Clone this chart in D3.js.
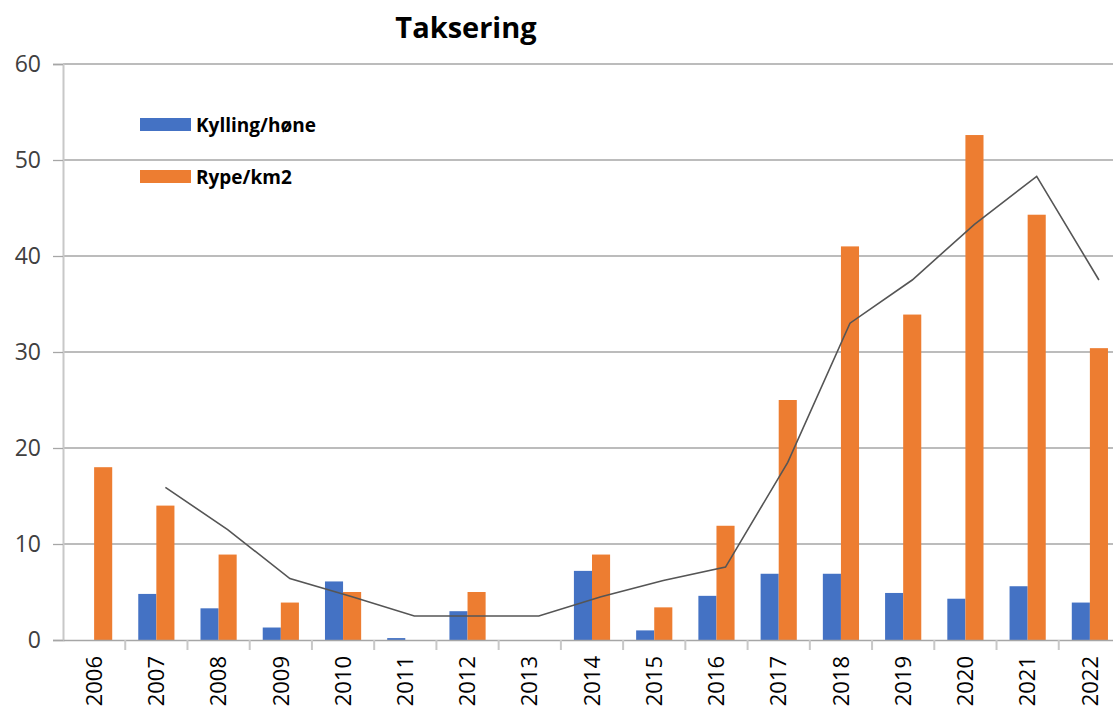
<!DOCTYPE html>
<html>
<head>
<meta charset="utf-8">
<script src="https://cdn.jsdelivr.net/npm/d3@7"></script>
<style>
  body { margin: 0; background: #fff; }
  svg { display: block; }
</style>
</head>
<body>
<div id="chart"></div>
<script>
const width = 1113;
const height = 711;

// data
const years = ["2006", "2007", "2008", "2009", "2010", "2011", "2012", "2013", "2014",
  "2015", "2016", "2017", "2018", "2019", "2020", "2021", "2022"];
const kylling = [0, 4.8, 3.3, 1.3, 6.1, 0.2, 3.0, 0, 7.2, 1.0, 4.6, 6.9, 6.9, 4.9, 4.3, 5.6, 3.9];
const rype = [18, 14, 8.9, 3.9, 5.0, 0, 5.0, 0, 8.9, 3.4, 11.9, 25, 41, 33.9, 52.6, 44.3, 30.4];
// moving average trend line (2 periods) of Rype/km2
const trend = [null, 15.9, 11.5, 6.4, 4.5, 2.5, 2.5, 2.5, 4.5, 6.2, 7.6, 18.5, 33, 37.5, 43.3, 48.3, 37.5];
const yTicks = [0, 10, 20, 30, 40, 50, 60];
const seriesNames = ["Kylling/høne", "Rype/km2"];
const colors = ["#4472C4", "#ED7D31"];

const margin = { left: 63, right: -8, top: 64, bottom: 71 };

const svg = d3.select('#chart').append('svg')
  .attr('width', width)
  .attr('height', height);

const x0 = d3.scaleBand()
  .domain(years)
  .range([margin.left, width - margin.right])
  .paddingInner(0)
  .paddingOuter(0);

const x1 = d3.scaleBand()
  .domain([0, 1])
  .range([0, x0.bandwidth()])
  .paddingInner(0)
  .paddingOuter(0.72);

const y = d3.scaleLinear()
  .domain([0, 60])
  .range([height - margin.bottom, margin.top]);

// gridlines
svg.append('g')
  .selectAll('line').data(yTicks.filter(d => d > 0))
  .enter().append('line')
  .attr('x1', margin.left)
  .attr('x2', width)
  .attr('y1', d => y(d))
  .attr('y2', d => y(d))
  .attr('stroke', '#a6a6a6')
  .attr('stroke-width', 1.3);

// y axis
const yAxis = svg.append('g')
  .attr('transform', `translate(${margin.left},0)`)
  .call(d3.axisLeft(y).tickValues(yTicks).tickSize(10).tickPadding(12));
yAxis.select('.domain').attr('stroke', '#c8c8c8').attr('stroke-width', 2);
yAxis.selectAll('.tick line').attr('stroke', '#a6a6a6').attr('stroke-width', 1.3);
yAxis.selectAll('.tick text')
  .attr('font-family', 'Open Sans, sans-serif')
  .attr('font-size', 23)
  .attr('fill', '#404040');

// bars
const data = years.map((yr, i) => ({ yr, vals: [kylling[i], rype[i]] }));
const groups = svg.append('g').selectAll('g').data(data)
  .enter().append('g')
  .attr('transform', d => `translate(${x0(d.yr)},0)`);

groups.selectAll('rect').data(d => d.vals)
  .enter().append('rect')
  .attr('x', (d, i) => x1(i))
  .attr('width', x1.bandwidth())
  .attr('y', d => y(d))
  .attr('height', d => y(0) - y(d))
  .attr('fill', (d, i) => colors[i]);

// x axis
const xAxis = svg.append('g')
  .attr('transform', `translate(0,${y(0)})`)
  .call(d3.axisBottom(x0).tickSize(0).tickPadding(0));
xAxis.select('.domain').attr('stroke', '#a6a6a6').attr('stroke-width', 1.5);
xAxis.selectAll('.tick text')
  .attr('font-family', 'Open Sans, sans-serif')
  .attr('font-size', 22)
  .attr('fill', '#000')
  .attr('text-anchor', 'end')
  .attr('dy', '0.35em')
  .attr('transform', 'translate(0,16) rotate(-90)');

// category separators
svg.append('g').selectAll('line').data(years.slice(1))
  .enter().append('line')
  .attr('x1', d => x0(d))
  .attr('x2', d => x0(d))
  .attr('y1', y(0))
  .attr('y2', y(0) + 10)
  .attr('stroke', '#c8c8c8')
  .attr('stroke-width', 2);

// trend line at orange bar centres
const line = d3.line()
  .defined(d => d.v != null)
  .x(d => x0(d.yr) + x1(1) + x1.bandwidth() / 2)
  .y(d => y(d.v));
svg.append('path')
  .datum(years.map((yr, i) => ({ yr, v: trend[i] })))
  .attr('d', line)
  .attr('fill', 'none')
  .attr('stroke', '#555')
  .attr('stroke-width', 1.6);

// title
svg.append('text')
  .attr('x', 466)
  .attr('y', 38)
  .attr('text-anchor', 'middle')
  .attr('font-family', 'Open Sans, sans-serif')
  .attr('font-weight', 'bold')
  .attr('font-size', 29)
  .attr('fill', '#000')
  .text('Taksering');

// legend
const legend = svg.append('g').selectAll('g').data(seriesNames)
  .enter().append('g')
  .attr('transform', (d, i) => `translate(140,${118 + i * 52})`);
legend.append('rect')
  .attr('width', 51)
  .attr('height', 13)
  .attr('fill', (d, i) => colors[i]);
legend.append('text')
  .attr('x', 56)
  .attr('y', 14)
  .attr('font-family', 'Open Sans, sans-serif')
  .attr('font-weight', 'bold')
  .attr('font-size', 19)
  .attr('fill', '#000')
  .text(d => d);
</script>
</body>
</html>
